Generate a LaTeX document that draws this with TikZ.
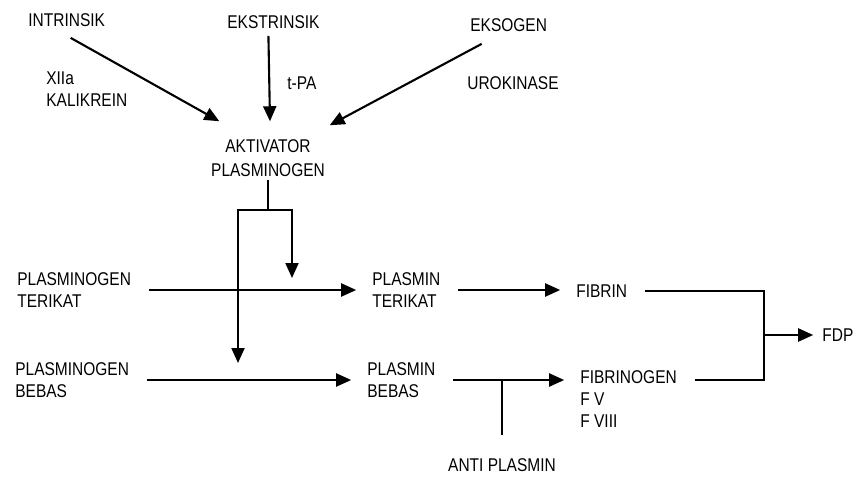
\documentclass[tikz,border=0pt]{standalone}
\usepackage{fontspec}
\setmainfont{Liberation Sans}[FakeStretch=0.84]
\usetikzlibrary{arrows.meta,positioning}

\begin{document}
\begin{tikzpicture}[
    x=0.02cm, y=-0.02cm,
    txt/.style={inner sep=0pt, font=\fontsize{10.5}{12.5}\selectfont},
    arrow/.style={line width=1.2pt, -{Triangle[length=3mm,width=2.6mm]}},
    link/.style={line width=1.2pt},
    flow/.style={arrow, shorten <=10pt, shorten >=9pt}
]
    \useasboundingbox (0,0) rectangle (854,476);

    % sources
    \node[txt, anchor=west] (intr) at (28,20) {INTRINSIK};
    \node[txt, anchor=west] (ekst) at (227,22) {EKSTRINSIK};
    \node[txt, anchor=west] (eks) at (470,25) {EKSOGEN};
    \node[txt, anchor=west, align=left] (xii) at (46,89) {XIIa\\KALIKREIN};
    \node[txt, anchor=west] (tpa) at (287,83) {t-PA};
    \node[txt, anchor=west] (uro) at (467,83) {UROKINASE};
    \node[txt, align=center, font=\fontsize{10.5}{13.5}\selectfont] (akt) at (268,158) {AKTIVATOR\\PLASMINOGEN};

    \draw[arrow] ([shift={(4,11)}]intr.south) -- ([shift={(8.5,-18)}]akt.north west);
    \draw[arrow] ([shift={(-5,7)}]ekst.south) -- ([shift={(2,-18)}]akt.north);
    \draw[arrow] ([shift={(-27,12)}]eks.south) -- ([shift={(4.5,-14)}]akt.north east);

    % plasminogen -> plasmin
    \node[txt, anchor=west, align=left] (pgT) at (17,290) {PLASMINOGEN\\TERIKAT};
    \node[txt, anchor=west, align=left] (pgB) at (15,380) {PLASMINOGEN\\BEBAS};
    \node[txt, anchor=west, align=left] (plT) at (372,290) {PLASMIN\\TERIKAT};
    \node[txt, anchor=west, align=left] (plB) at (367,380) {PLASMIN\\BEBAS};
    \node[txt, anchor=west] (fibrin) at (576,291) {FIBRIN};
    \node[txt, anchor=north west, align=left] (fibg) at (580,370) {FIBRINOGEN\\F V\\F VIII};
    \node[txt, anchor=west] (fdp) at (822,335) {FDP};
    \node[txt] (anti) at (502,465) {ANTI PLASMIN};

    \coordinate (fork) at (268,210);
    \coordinate (tgtT) at (292,278);
    \coordinate (tgtB) at (238,363);
    \coordinate (join) at (764,335);

    \draw[link] ([shift={(0,3)}]akt.south) -- (fork);
    \draw[arrow] (fork) -| (tgtT);
    \draw[arrow] (fork) -| (tgtB);

    \draw[flow] (pgT) -- (plT);
    \draw[flow] (pgB) -- (plB);
    \draw[flow] (plT.east) -- (plT.east -| fibrin.west);
    \draw[flow] (plB.east) -- (plB.east -| fibg.west);

    \draw[link, shorten <=10pt] (fibrin.east) -| (join);
    \draw[link, shorten <=10pt] (fibg.east |- plB.east) -| (join);
    \draw[arrow, shorten >=5pt] (join) -- (fdp);

    \draw[link] ([shift={(0,-23)}]anti.north) -- (anti.north |- plB.east);
\end{tikzpicture}
\end{document}
